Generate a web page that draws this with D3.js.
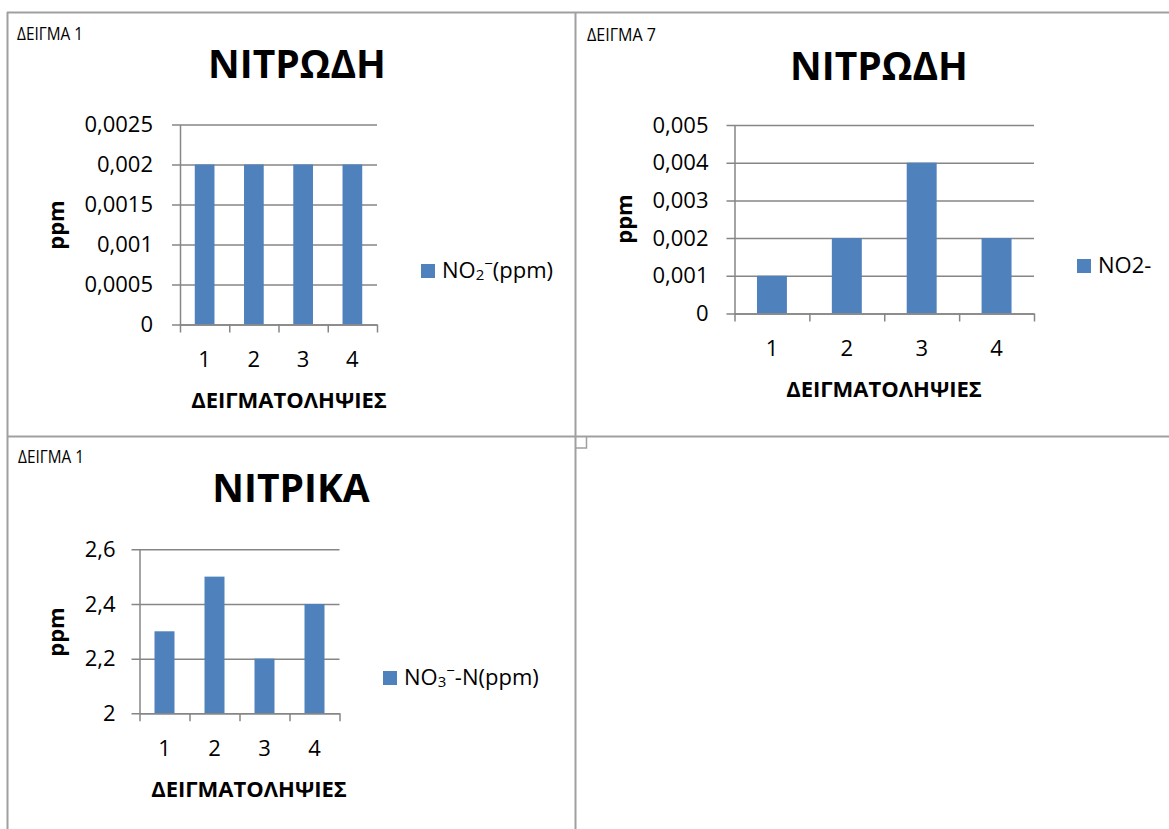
<!DOCTYPE html>
<html>
<head>
<meta charset="utf-8">
<script src="https://cdn.jsdelivr.net/npm/d3@7"></script>
<style>
  html, body { margin: 0; padding: 0; background: #fff; }
  svg { display: block; }
</style>
</head>
<body>
<svg id="sheet" width="1169" height="829"></svg>
<script>
// Sampling rounds shown on the category axis
const samplingRounds = ["1", "2", "3", "4"];

// Nitrite (ppm), sample 1
const nitriteSample1 = [0.002, 0.002, 0.002, 0.002];
const nitriteSample1Ticks = [0, 0.0005, 0.001, 0.0015, 0.002, 0.0025];
const nitriteSample1TickLabels = ["0", "0,0005", "0,001", "0,0015", "0,002", "0,0025"];

// Nitrite (ppm), sample 7
const nitriteSample7 = [0.001, 0.002, 0.004, 0.002];
const nitriteSample7Ticks = [0, 0.001, 0.002, 0.003, 0.004, 0.005];
const nitriteSample7TickLabels = ["0", "0,001", "0,002", "0,003", "0,004", "0,005"];

// Nitrate (ppm), sample 1
const nitrateSample1 = [2.3, 2.5, 2.2, 2.4];
const nitrateSample1Ticks = [2, 2.2, 2.4, 2.6];
const nitrateSample1TickLabels = ["2", "2,2", "2,4", "2,6"];

const FONT = "'Open Sans', 'Noto Sans', 'DejaVu Sans', sans-serif";
const BAR = "#4F81BD";
const GRID = "#868686";
const FRAME = "#a0a0a0";

const svg = d3.select("#sheet");
svg.append("rect").attr("width", 1169).attr("height", 829).attr("fill", "#fff");

// Table frame around the chart cells
const frame = svg.append("g").attr("fill", "none").attr("stroke", FRAME).attr("stroke-width", 2);
frame.append("line").attr("x1", 7).attr("x2", 1169).attr("y1", 12.5).attr("y2", 12.5);
frame.append("line").attr("x1", 7.5).attr("x2", 7.5).attr("y1", 12).attr("y2", 829);
frame.append("line").attr("x1", 575.5).attr("x2", 575.5).attr("y1", 12).attr("y2", 829);
frame.append("line").attr("x1", 7).attr("x2", 1169).attr("y1", 436.5).attr("y2", 436.5);
frame.append("polyline").attr("stroke-width", 1.5)
  .attr("points", "575,448 586.5,448 586.5,437");

const charts = [
  {
    sample: "ΔΕΙΓΜΑ 1", title: "ΝΙΤΡΩΔΗ",
    values: nitriteSample1, ticks: nitriteSample1Ticks, tickLabels: nitriteSample1TickLabels,
    legend: [["NO", 0], ["2", -1], ["\u2212", 1], ["(ppm)", 0]],
    layout: {
      sample: { x: 17, y: 40, len: 66 }, title: { x: 297, y: 78 },
      x0: 180, x1: 377, yTop: 124.5, yBase: 324.5, tickPad: 19,
      ppm: { x: 64, y: 225 }, xTitle: { x: 289, y: 408 }, legend: { x: 421, y: 264 }
    }
  },
  {
    sample: "ΔΕΙΓΜΑ 7", title: "ΝΙΤΡΩΔΗ",
    values: nitriteSample7, ticks: nitriteSample7Ticks, tickLabels: nitriteSample7TickLabels,
    legend: [["NO2-", 0]],
    layout: {
      sample: { x: 587, y: 41, len: 69 }, title: { x: 879, y: 80 },
      x0: 734.5, x1: 1034, yTop: 125, yBase: 313.5, tickPad: 18,
      ppm: { x: 632, y: 219 }, xTitle: { x: 884, y: 397 }, legend: { x: 1077, y: 259 }
    }
  },
  {
    sample: "ΔΕΙΓΜΑ 1", title: "ΝΙΤΡΙΚΑ",
    values: nitrateSample1, ticks: nitrateSample1Ticks, tickLabels: nitrateSample1TickLabels,
    legend: [["NO", 0], ["3", -1], ["\u2212", 1], ["-N(ppm)", 0]],
    layout: {
      sample: { x: 18, y: 463, len: 66 }, title: { x: 291, y: 502 },
      x0: 139.5, x1: 339.5, yTop: 549.3, yBase: 713.3, tickPad: 16,
      ppm: { x: 64, y: 632 }, xTitle: { x: 249, y: 797 }, legend: { x: 383, y: 671 }
    }
  }
];

charts.forEach(c => {
  const L = c.layout;
  const g = svg.append("g").attr("font-family", FONT);
  const w = L.x1 - L.x0;

  const x = d3.scaleBand().domain(samplingRounds).range([L.x0, L.x1])
    .paddingInner(0.6).paddingOuter(0.3);
  const y = d3.scaleLinear().domain(d3.extent(c.ticks)).range([L.yBase, L.yTop]);

  // Sample caption in the cell corner
  g.append("text").attr("x", L.sample.x).attr("y", L.sample.y)
    .attr("font-size", 19).attr("fill", "#000")
    .attr("textLength", L.sample.len).attr("lengthAdjust", "spacingAndGlyphs")
    .text(c.sample);

  // Chart title
  g.append("text").attr("x", L.title.x).attr("y", L.title.y)
    .attr("text-anchor", "middle").attr("font-size", 39).attr("font-weight", "bold")
    .attr("fill", "#000").text(c.title);

  // Value axis with gridlines running across the plot
  const yAxis = g.append("g").attr("transform", `translate(${L.x0},0)`)
    .call(d3.axisLeft(y).tickValues(c.ticks)
      .tickFormat((d, i) => c.tickLabels[i])
      .tickSizeInner(8).tickSizeOuter(0).tickPadding(L.tickPad));
  yAxis.selectAll(".tick line").attr("x1", w).attr("stroke", GRID).attr("stroke-width", 1.5);
  yAxis.select(".domain").attr("stroke", GRID).attr("stroke-width", 1.5);
  yAxis.selectAll("text").attr("font-size", 22).attr("fill", "#000").attr("font-family", FONT);

  // Bars
  g.append("g").selectAll("rect").data(c.values).join("rect")
    .attr("x", (d, i) => x(samplingRounds[i]))
    .attr("width", x.bandwidth())
    .attr("y", d => y(d))
    .attr("height", d => y(y.domain()[0]) - y(d))
    .attr("fill", BAR);

  // Category axis: boundary tick marks between the categories
  const edges = d3.scaleLinear().domain([0, samplingRounds.length]).range([L.x0, L.x1]);
  const xEdges = g.append("g").attr("transform", `translate(0,${L.yBase})`)
    .call(d3.axisBottom(edges).ticks(samplingRounds.length).tickFormat("")
      .tickSizeInner(8).tickSizeOuter(0));
  xEdges.selectAll("line, path").attr("stroke", GRID).attr("stroke-width", 1.5);

  // Category labels centred under each bar
  const xLabels = g.append("g").attr("transform", `translate(0,${L.yBase})`)
    .call(d3.axisBottom(x).tickSize(0).tickPadding(27));
  xLabels.select(".domain").remove();
  xLabels.selectAll("text").attr("font-size", 22).attr("fill", "#000").attr("font-family", FONT);

  // Axis titles
  g.append("text").attr("x", L.xTitle.x).attr("y", L.xTitle.y)
    .attr("text-anchor", "middle").attr("font-size", 22).attr("font-weight", "bold")
    .attr("fill", "#000").text("ΔΕΙΓΜΑΤΟΛΗΨΙΕΣ");
  g.append("text").attr("transform", `translate(${L.ppm.x},${L.ppm.y}) rotate(-90)`)
    .attr("text-anchor", "middle").attr("font-size", 22).attr("font-weight", "bold")
    .attr("fill", "#000").text("ppm");

  // Legend
  g.append("rect").attr("x", L.legend.x).attr("y", L.legend.y)
    .attr("width", 14).attr("height", 14).attr("fill", BAR);
  const lt = g.append("text").attr("x", L.legend.x + 21).attr("y", L.legend.y + 14)
    .attr("font-size", 22).attr("fill", "#000");
  c.legend.forEach(([s, shift]) => {
    const t = lt.append("tspan").text(s);
    if (shift < 0) t.attr("font-size", 15).attr("baseline-shift", -2);
    if (shift > 0) t.attr("font-size", 15).attr("baseline-shift", 9);
  });
});
</script>
</body>
</html>
